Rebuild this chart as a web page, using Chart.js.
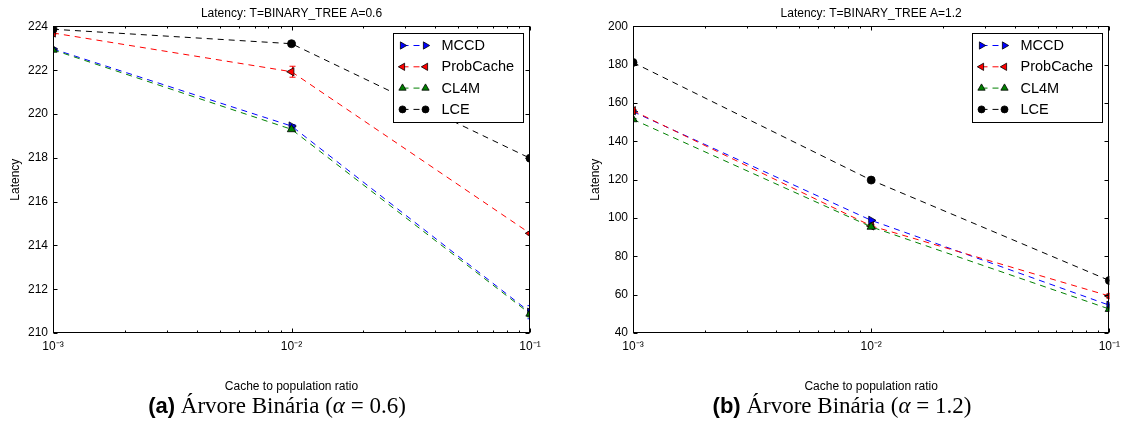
<!DOCTYPE html>
<html>
<head>
<meta charset="utf-8">
<script src="https://cdn.jsdelivr.net/npm/chart.js@4.4.0/dist/chart.umd.min.js"></script>
<style>
  body { margin: 0; background: #fff; }
  #page { position: relative; width: 1126px; height: 423px; overflow: hidden; background: #fff; }
  #page canvas { position: absolute; top: 0; }
  .caption { position: absolute; top: 393px; width: 420px; text-align: center; white-space: nowrap;
             font: 23px "Liberation Serif", "Times New Roman", serif; color: #000; line-height: 26px; }
  .caption b { font-family: "Liberation Sans", Arial, sans-serif; font-size: 22px; }
</style>
</head>
<body>
<div id="page">
  <canvas id="lat06" width="563" height="395" style="left:0"></canvas>
  <canvas id="lat12" width="563" height="395" style="left:563px"></canvas>
  <div class="caption" style="left:67px"><b>(a)</b> Árvore Binária (<i>α</i> = 0.6)</div>
  <div class="caption" style="left:632px"><b>(b)</b> Árvore Binária (<i>α</i> = 1.2)</div>
</div>
<script>
const ratios = [0.001, 0.01, 0.1];
const ratioLabels = ['10⁻³', '10⁻²', '10⁻¹'];
const seriesNames = ['MCCD', 'ProbCache', 'CL4M', 'LCE'];

// T=BINARY_TREE, A=0.6
const mccdA06 = [222.97, 219.45, 210.95];
const probCacheA06 = [223.70, 221.93, 214.55];
const cl4mA06 = [222.93, 219.30, 210.88];
const lceA06 = [223.87, 223.21, 217.98];
const mccdErrA06 = [0.04, 0.06, 0.30];
const probCacheErrA06 = [0.05, 0.25, 0.08];
const cl4mErrA06 = [0.04, 0.06, 0.15];
const lceErrA06 = [0.02, 0.04, 0.04];

// T=BINARY_TREE, A=1.2
const mccdA12 = [155.5, 98.8, 54.5];
const probCacheA12 = [156.0, 95.9, 59.3];
const cl4mA12 = [151.5, 95.4, 52.5];
const lceA12 = [181.2, 119.8, 67.4];
const mccdErrA12 = [0.4, 0.4, 0.8];
const probCacheErrA12 = [0.6, 0.6, 1.2];
const cl4mErrA12 = [0.4, 0.4, 0.6];
const lceErrA12 = [0.3, 0.3, 0.3];

const FONT = '"Liberation Sans", Arial, Helvetica, sans-serif';
Chart.defaults.font.family = FONT;
Chart.defaults.color = '#000';

const markers = [
  { color: '#0000ff', shape: 'triangle', rotation: 90 },
  { color: '#ff0000', shape: 'triangle', rotation: -90 },
  { color: '#008000', shape: 'triangle', rotation: 0 },
  { color: '#000000', shape: 'circle', rotation: 0 },
];
const DASH = [6, 5];

function marker(ctx, shape, rotation, r, x, y) {
  ctx.beginPath();
  if (shape === 'circle') {
    ctx.arc(x, y, r, 0, Math.PI * 2);
  } else {
    let rad = rotation * Math.PI / 180;
    for (let k = 0; k < 3; k++) {
      const px = x + Math.sin(rad) * r, py = y - Math.cos(rad) * r;
      k ? ctx.lineTo(px, py) : ctx.moveTo(px, py);
      rad += Math.PI * 2 / 3;
    }
    ctx.closePath();
  }
  ctx.fill();
  ctx.stroke();
}

// error bars under the lines, frame + inward ticks + boxed legend on top
const decor = {
  id: 'decor',
  beforeDatasetsDraw(chart) {
    const { ctx, chartArea: a, scales: { x, y } } = chart;
    ctx.save();
    ctx.beginPath();
    ctx.rect(a.left, a.top, a.right - a.left, a.bottom - a.top);
    ctx.clip();
    ctx.lineWidth = 1;
    chart.data.datasets.forEach(ds => {
      ctx.strokeStyle = ds.borderColor;
      ds.data.forEach((p, j) => {
        const e = ds.errors[j];
        const px = Math.round(x.getPixelForValue(p.x)) + 0.5;
        const y0 = y.getPixelForValue(p.y - e), y1 = y.getPixelForValue(p.y + e);
        ctx.beginPath();
        ctx.moveTo(px, y0); ctx.lineTo(px, y1);
        ctx.moveTo(px - 3, y0); ctx.lineTo(px + 3, y0);
        ctx.moveTo(px - 3, y1); ctx.lineTo(px + 3, y1);
        ctx.stroke();
      });
    });
    ctx.restore();
  },
  afterDraw(chart) {
    const { ctx, chartArea: a, scales: { x, y } } = chart;
    const L = Math.round(a.left) + 0.5, R = Math.round(a.right) - 0.5;
    const T = Math.round(a.top) + 0.5, B = Math.round(a.bottom) - 0.5;
    ctx.save();
    ctx.strokeStyle = '#000';
    ctx.lineWidth = 1;
    ctx.beginPath();
    y.ticks.forEach(t => {
      const py = Math.round(y.getPixelForValue(t.value)) + 0.5;
      ctx.moveTo(L, py); ctx.lineTo(L + 4, py);
      ctx.moveTo(R, py); ctx.lineTo(R - 4, py);
    });
    for (let d = 0; d < ratios.length; d++) {
      const last = d === ratios.length - 1;
      for (let m = 1; m <= (last ? 1 : 9); m++) {
        const px = Math.round(x.getPixelForValue(ratios[d] * m)) + 0.5;
        const len = m === 1 ? 4 : 2;
        ctx.moveTo(px, B); ctx.lineTo(px, B - len);
        ctx.moveTo(px, T); ctx.lineTo(px, T + len);
      }
    }
    ctx.stroke();
    ctx.strokeRect(L, T, R - L, B - T);

    // legend box, upper right inside the axes
    const bw = 130, bh = 89;
    const bx = Math.round(a.right - 7 - bw) + 0.5, by = Math.round(a.top + 7) + 0.5;
    ctx.fillStyle = '#fff';
    ctx.fillRect(bx, by, bw, bh);
    ctx.strokeRect(bx, by, bw, bh);
    ctx.font = '14.5px ' + FONT;
    ctx.textBaseline = 'middle';
    chart.data.datasets.forEach((ds, i) => {
      const ry = by + 12 + i * 21.3;
      const x1 = bx + 9, x2 = bx + 32;
      const mk = markers[i];
      ctx.setLineDash(DASH);
      ctx.strokeStyle = mk.color;
      ctx.beginPath(); ctx.moveTo(x1, ry); ctx.lineTo(x2, ry); ctx.stroke();
      ctx.setLineDash([]);
      ctx.fillStyle = mk.color;
      ctx.strokeStyle = '#000';
      ctx.lineWidth = 0.8;
      marker(ctx, mk.shape, mk.rotation, mk.shape === 'circle' ? 3.5 : 4.2, x1, ry);
      marker(ctx, mk.shape, mk.rotation, mk.shape === 'circle' ? 3.5 : 4.2, x2, ry);
      ctx.lineWidth = 1;
      ctx.fillStyle = '#000';
      ctx.fillText(ds.label, bx + 48, ry + 0.5);
    });
    ctx.restore();
  }
};

function makeDatasets(values, errors) {
  return values.map((vals, i) => ({
    label: seriesNames[i],
    data: ratios.map((r, j) => ({ x: r, y: vals[j] })),
    errors: errors[i],
    borderColor: markers[i].color,
    backgroundColor: markers[i].color,
    pointBackgroundColor: markers[i].color,
    pointBorderColor: '#000',
    pointBorderWidth: 0.8,
    pointStyle: markers[i].shape,
    pointRotation: markers[i].rotation,
    pointRadius: markers[i].shape === 'circle' ? 4 : 4.8,
    pointHoverRadius: 4,
    borderWidth: 1,
    borderDash: DASH,
    tension: 0,
    fill: false,
    clip: 0,
    order: 3 - i,
  }));
}

function makeChart(id, title, values, errors, yMin, yMax, yStep, padLeft, padRight) {
  return new Chart(document.getElementById(id), {
    type: 'line',
    data: { datasets: makeDatasets(values, errors) },
    plugins: [decor],
    options: {
      responsive: false,
      animation: false,
      events: [],
      layout: { padding: { left: padLeft, right: padRight, top: 0, bottom: 0 } },
      plugins: {
        legend: { display: false },
        tooltip: { enabled: false },
        title: {
          display: true, text: title, fullSize: false, color: '#000',
          font: { size: 12, weight: 'normal' }, padding: { top: 6, bottom: 6 },
        },
      },
      scales: {
        x: {
          type: 'logarithmic', min: ratios[0], max: ratios[ratios.length - 1],
          afterBuildTicks: s => { s.ticks = ratios.map(v => ({ value: v, major: true })); },
          afterFit: s => { s.height = 62; },
          ticks: {
            autoSkip: false, maxRotation: 0, padding: 6, font: { size: 12 }, color: '#000',
            callback: v => ratioLabels[ratios.indexOf(v)],
          },
          grid: { display: false, drawTicks: false },
          border: { display: false },
          title: { display: true, text: 'Cache to population ratio', font: { size: 12 }, color: '#000',
                   padding: { top: 4, bottom: 1 } },
        },
        y: {
          min: yMin, max: yMax,
          afterFit: s => { s.width = 53; },
          ticks: { stepSize: yStep, padding: 5, font: { size: 12 }, color: '#000' },
          grid: { display: false, drawTicks: false },
          border: { display: false },
          title: { display: true, text: 'Latency', font: { size: 12 }, color: '#000',
                   padding: { top: 8, bottom: 0 } },
        },
      },
    },
  });
}

makeChart('lat06', 'Latency: T=BINARY_TREE A=0.6',
  [mccdA06, probCacheA06, cl4mA06, lceA06],
  [mccdErrA06, probCacheErrA06, cl4mErrA06, lceErrA06],
  210, 224, 2, 0, 33);

makeChart('lat12', 'Latency: T=BINARY_TREE A=1.2',
  [mccdA12, probCacheA12, cl4mA12, lceA12],
  [mccdErrA12, probCacheErrA12, cl4mErrA12, lceErrA12],
  40, 200, 20, 17, 16);
</script>
</body>
</html>
